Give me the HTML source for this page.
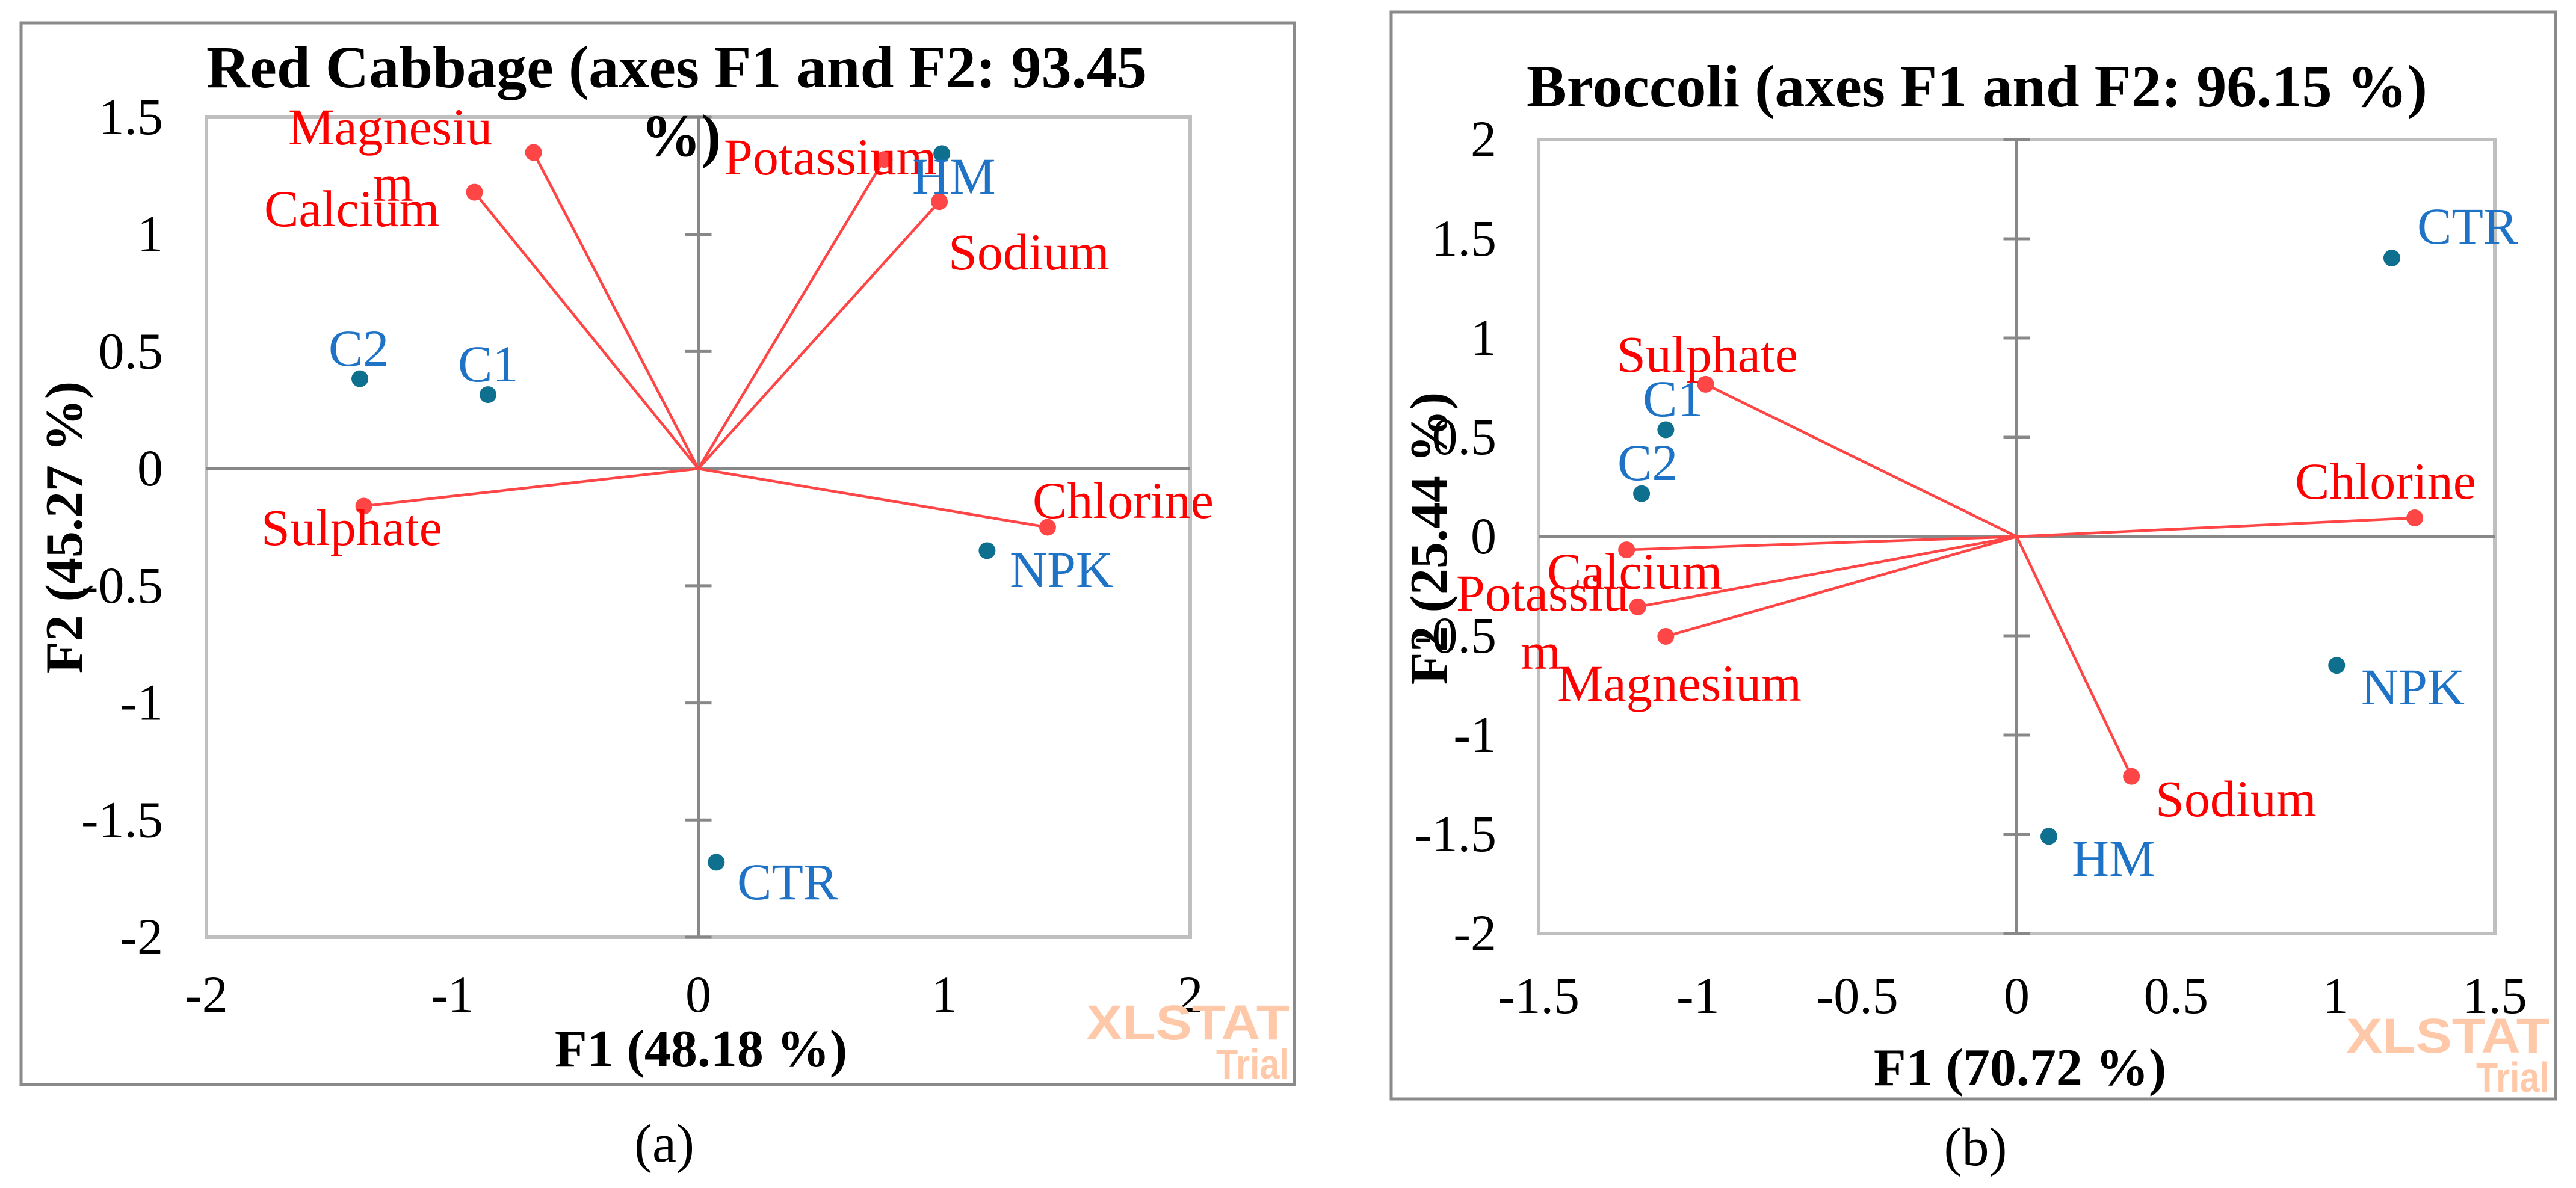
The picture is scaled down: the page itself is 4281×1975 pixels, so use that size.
<!DOCTYPE html>
<html><head><meta charset="utf-8"><style>
html,body{margin:0;padding:0;background:#fff;}
svg{display:block;}
</style></head><body>
<svg id="fig" width="4281" height="1975" viewBox="0 0 4281 1975" xmlns="http://www.w3.org/2000/svg" font-family="'Liberation Serif', serif">
<rect x="35" y="38" width="2116" height="1765" fill="none" stroke="#8a8a8a" stroke-width="5"/>
<rect x="2312" y="20" width="1935" height="1807" fill="none" stroke="#8a8a8a" stroke-width="5"/>
<g id="chartA"></g>
<g id="chartB"></g>
</svg>
<script>
// Red cabbage data
const aVarNames = ["Magnesium","Calcium","Potassium","Sodium","Chlorine","Sulphate"];
const aVarX = [-0.67,-0.91,0.756,0.98,1.42,-1.36];
const aVarY = [1.35,1.18,1.32,1.14,-0.25,-0.16];
const aObsNames = ["HM","C2","C1","NPK","CTR"];
const aObsX = [0.99,-1.376,-0.855,1.174,0.073];
const aObsY = [1.345,0.384,0.316,-0.35,-1.68];
const aXTicks = [-2,-1,0,1,2];
const aYTicks = [1.5,1,0.5,0,-0.5,-1,-1.5,-2];
// Broccoli data
const bVarNames = ["Sulphate","Chlorine","Calcium","Potassium","Magnesium","Sodium"];
const bVarX = [-0.976,1.249,-1.224,-1.189,-1.101,0.36];
const bVarY = [0.767,0.094,-0.067,-0.354,-0.503,-1.208];
const bObsNames = ["CTR","C1","C2","NPK","HM"];
const bObsX = [1.177,-1.101,-1.177,1.004,0.101];
const bObsY = [1.403,0.538,0.216,-0.649,-1.51];
const bXTicks = [-1.5,-1,-0.5,0,0.5,1,1.5];
const bYTicks = [2,1.5,1,0.5,0,-0.5,-1,-1.5,-2];

const NS="http://www.w3.org/2000/svg";
const SERIF="Liberation Serif, serif", SANS="Liberation Sans, sans-serif";
function mk(parent,tag,attrs,txt){const e=document.createElementNS(NS,tag);for(const k in attrs)e.setAttribute(k,attrs[k]);if(tag==='text'&&!attrs['font-family'])e.setAttribute('font-family',SERIF);if(txt!==undefined)e.textContent=txt;parent.appendChild(e);return e;}

function draw(g,cfg){
  const sx=v=>cfg.px0+(v-cfg.xmin)/(cfg.xmax-cfg.xmin)*(cfg.px1-cfg.px0);
  const sy=v=>cfg.py1-(v-cfg.ymin)/(cfg.ymax-cfg.ymin)*(cfg.py1-cfg.py0);
  const border=mk(g,'rect',{x:cfg.px0,y:cfg.py0,width:cfg.px1-cfg.px0,height:cfg.py1-cfg.py0,fill:'none',stroke:'#bfbfbf','stroke-width':6});
  
  
  const ax=mk(g,'line',{x1:cfg.px0,x2:cfg.px1,y1:sy(0),y2:sy(0),stroke:'#888','stroke-width':5});
  
  
  const ay=mk(g,'line',{x1:sx(0),x2:sx(0),y1:cfg.py0,y2:cfg.py1,stroke:'#888','stroke-width':5});
  
  
  cfg.yt.forEach(v=>{
    const t=mk(g,'line',{x1:sx(0)-22,x2:sx(0)+22,y1:sy(v),y2:sy(v),stroke:'#888','stroke-width':5});
    
    
    const l=mk(g,'text',{x:cfg.ytx,y:sy(v)+28,'text-anchor':'end','font-size':86,fill:'#000'},String(v));
    
    
  });
  cfg.xt.forEach(v=>{
    const l=mk(g,'text',{x:sx(v),y:cfg.xty,'text-anchor':'middle','font-size':86,fill:'#000'},String(v));
    
    
  });
  cfg.vx.forEach((v,i)=>{
    const ln=mk(g,'line',{x1:sx(0),y1:sy(0),x2:sx(v),y2:sy(cfg.vy[i]),stroke:'#ff4646','stroke-width':4.5});
    
    
    const c=mk(g,'circle',{cx:sx(v),cy:sy(cfg.vy[i]),r:14,fill:'#ff4646'});
    
    
  });
  cfg.ox.forEach((v,i)=>{
    const c=mk(g,'circle',{cx:sx(v),cy:sy(cfg.oy[i]),r:14,fill:'#0e6f8e'});
    
    
  });
  cfg.labels.forEach(L=>{
    const t=mk(g,'text',{x:L[1],y:L[2],'font-size':86,fill:L[3]},L[0]);
    
    
  });
  const tt=mk(g,'text',{x:cfg.title[1],y:cfg.title[2],'font-size':100,'font-weight':'bold',fill:'#000',textLength:cfg.title[3],lengthAdjust:'spacingAndGlyphs'},cfg.title[0]);
  
  
  if(cfg.title2){const t2=mk(g,'text',{x:cfg.title2[1],y:cfg.title2[2],'font-size':100,'font-weight':'bold',fill:'#000'},cfg.title2[0]);
    
    }
  const xt=mk(g,'text',{x:cfg.xtitle[1],y:cfg.xtitle[2],'text-anchor':'middle','font-size':88,'font-weight':'bold',fill:'#000'},cfg.xtitle[0]);
  
  
  const yt=mk(g,'text',{x:0,y:0,'text-anchor':'middle','font-size':88,'font-weight':'bold',fill:'#000',transform:`translate(${cfg.ytitle[1]},${cfg.ytitle[2]}) rotate(-90)`},cfg.ytitle[0]);
  
  
  const w1=mk(g,'text',{x:cfg.wm[0],y:cfg.wm[1],'text-anchor':'end','font-size':82,'font-family':SANS,'font-weight':'bold',fill:'#FFC9A9',textLength:338,lengthAdjust:'spacingAndGlyphs'},'XLSTAT');
  
  
  const w2=mk(g,'text',{x:cfg.wm[0],y:cfg.wm[1]+65,'text-anchor':'end','font-size':70,'font-family':SANS,'font-weight':'bold',fill:'#FFC9A9',textLength:122,lengthAdjust:'spacingAndGlyphs'},'Trial');
  
  
  const p=mk(g,'text',{x:cfg.panel[1],y:cfg.panel[2],'text-anchor':'middle','font-size':90,fill:'#000'},cfg.panel[0]);
  
  
}
const R='#ff0000',B='#1f73c6';
draw(document.getElementById('chartA'),{
  px0:343,px1:1978,py0:195,py1:1558,xmin:-2,xmax:2,ymin:-2,ymax:1.5,
  xt:aXTicks,yt:aYTicks,ytx:271,xty:1682,
  vx:aVarX,vy:aVarY,ox:aObsX,oy:aObsY,
  labels:[["Magnesiu",479,240,R],["m",620,334,R],["Calcium",439,376,R],[aVarNames[2],1203,290,R],[aObsNames[0],1516,322,B],[aVarNames[3],1576,448,R],[aObsNames[1],546,608,B],[aObsNames[2],761,634,B],[aVarNames[4],1716,861,R],[aVarNames[5],434,906,R],[aObsNames[3],1678,976,B],[aObsNames[4],1225,1495,B]],
  title:["Red Cabbage (axes F1 and F2: 93.45",343,145,1563],title2:["%)",1065,259],
  xtitle:["F1 (48.18 %)",1165,1773],ytitle:["F2 (45.27 %)",136,877],
  wm:[2143,1728],panel:["(a)",1104,1931]
});
draw(document.getElementById('chartB'),{
  px0:2557,px1:4146,py0:232,py1:1552,xmin:-1.5,xmax:1.5,ymin:-2,ymax:2,
  xt:bXTicks,yt:bYTicks,ytx:2487,xty:1684,
  vx:bVarX,vy:bVarY,ox:bObsX,oy:bObsY,
  labels:[[bObsNames[0],4017,405,B],[bVarNames[0],2687,618,R],[bObsNames[1],2730,692,B],[bObsNames[2],2688,798,B],[bVarNames[1],3814,829,R],[bVarNames[2],2571,979,R],["Potassiu",2420,1015,R],["m",2527,1112,R],[bVarNames[4],2588,1165,R],[bObsNames[3],3924,1171,B],[bVarNames[5],3582,1357,R],[bObsNames[4],3443,1456,B]],
  title:["Broccoli (axes F1 and F2: 96.15 %)",2537,177,1497],title2:null,
  xtitle:["F1 (70.72 %)",3357,1804],ytitle:["F2 (25.44 %)",2404,895],
  wm:[4237,1750],panel:["(b)",3283,1937]
});
</script>
</body></html>
